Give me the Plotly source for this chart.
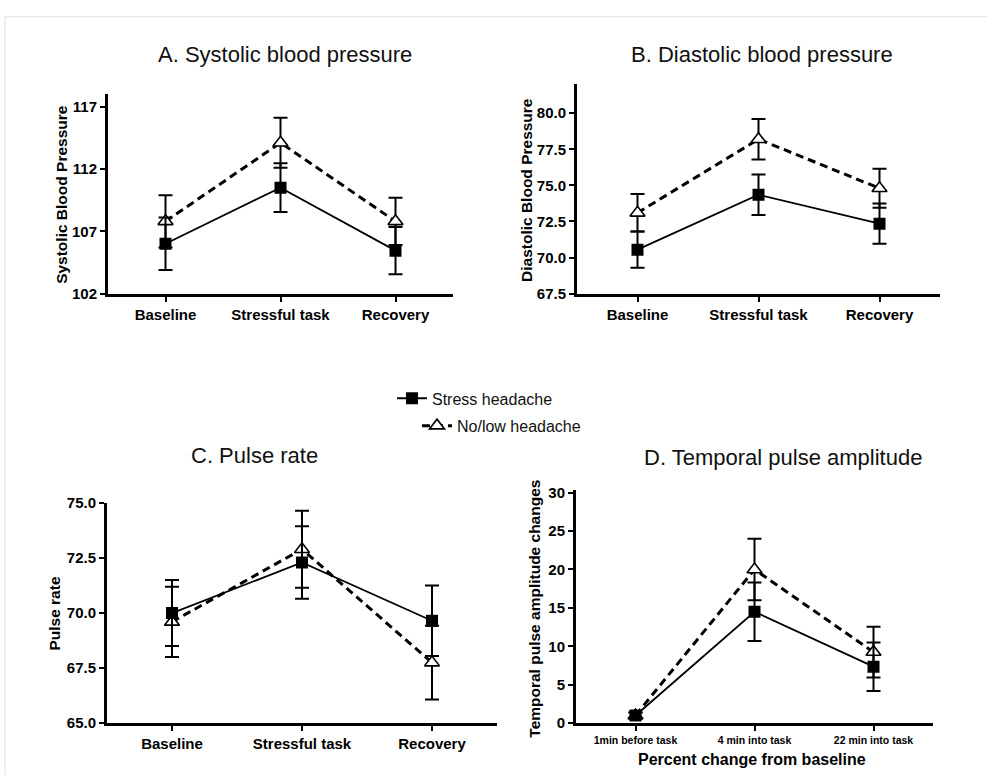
import plotly.graph_objects as go

W, H = 987, 783

# ---------------- data ----------------
categories_bp = ["Baseline", "Stressful task", "Recovery"]
categories_tpa = ["1min before task", "4 min into task", "22 min into task"]

sbp_stress = [106.0, 110.5, 105.45]
sbp_stress_se = [2.1, 1.95, 1.9]
sbp_nolow = [107.8, 114.1, 107.8]
sbp_nolow_se = [2.1, 2.0, 1.9]

dbp_stress = [70.55, 74.35, 72.35]
dbp_stress_se = [1.25, 1.4, 1.4]
dbp_nolow = [73.1, 78.2, 74.8]
dbp_nolow_se = [1.3, 1.4, 1.35]

pulse_stress = [70.0, 72.3, 69.65]
pulse_stress_se = [1.5, 1.65, 1.6]
pulse_nolow = [69.6, 72.9, 67.75]
pulse_nolow_se = [1.6, 1.75, 1.67]

tpa_stress = [1.0, 14.5, 7.35]
tpa_stress_se = [0.4, 3.8, 3.15]
tpa_nolow = [1.0, 20.0, 9.25]
tpa_nolow_se = [0.4, 4.0, 3.3]

series_names = ["Stress headache", "No/low headache"]

panel_titles = ["A. Systolic blood pressure", "B. Diastolic blood pressure",
                "C. Pulse rate", "D. Temporal pulse amplitude"]
y_titles = ["Systolic Blood Pressure", "Diastolic Blood Pressure",
            "Pulse rate", "Temporal pulse amplitude changes"]
x_title_d = "Percent change from baseline"

sbp_ticks = [102, 107, 112, 117]
dbp_ticks = [67.5, 70.0, 72.5, 75.0, 77.5, 80.0]
pulse_ticks = [65.0, 67.5, 70.0, 72.5, 75.0]
tpa_ticks = [0, 5, 10, 15, 20, 25, 30]

FONT = "Arial, Liberation Sans, Helvetica, sans-serif"


def px_x(p):
    return p / W


def px_y(p):
    return 1 - p / H


fig = go.Figure()

panels = [
    (categories_bp, sbp_stress, sbp_stress_se, sbp_nolow, sbp_nolow_se, ""),
    (categories_bp, dbp_stress, dbp_stress_se, dbp_nolow, dbp_nolow_se, "2"),
    (categories_bp, pulse_stress, pulse_stress_se, pulse_nolow, pulse_nolow_se, "3"),
    (categories_tpa, tpa_stress, tpa_stress_se, tpa_nolow, tpa_nolow_se, "4"),
]

for i, (xc, s, sse, n, nse, sfx) in enumerate(panels):
    first = i == 0
    # No/low headache: open triangles, dashed line (drawn first, beneath)
    fig.add_trace(go.Scatter(
        x=xc, y=n, mode="lines+markers", name=series_names[1],
        xaxis="x" + sfx, yaxis="y" + sfx,
        line=dict(color="black", width=3, dash="8px,5px"),
        marker=dict(symbol="triangle-up", size=13, color="white",
                    line=dict(color="black", width=1.6)),
        error_y=dict(type="data", array=nse, visible=True, color="black",
                     thickness=2, width=7),
        showlegend=first, legend="legend2",
    ))
    # Stress headache: filled squares, solid line
    fig.add_trace(go.Scatter(
        x=xc, y=s, mode="lines+markers", name=series_names[0],
        xaxis="x" + sfx, yaxis="y" + sfx,
        line=dict(color="black", width=1.8),
        marker=dict(symbol="square", size=12, color="black",
                    line=dict(color="black", width=0)),
        error_y=dict(type="data", array=sse, visible=True, color="black",
                     thickness=2, width=7),
        showlegend=first, legend="legend",
    ))

common_x = dict(type="category", range=[-0.5, 2.5], showline=True, linewidth=3,
                linecolor="black", ticks="outside", ticklen=5, tickwidth=2,
                tickcolor="black", showgrid=False, zeroline=False,
                tickfont=dict(family=FONT, size=15, color="black", weight="bold"),
                fixedrange=True)
common_y = dict(showline=True, linewidth=3, linecolor="black", ticks="outside",
                ticklen=5, tickwidth=2, tickcolor="black", showgrid=False,
                zeroline=False,
                tickfont=dict(family=FONT, size=15, color="black", weight="bold"),
                fixedrange=True)

# pixel boxes: (left, right, top, bottom)
boxes = [(108, 453, 87, 291), (577, 940, 77, 291), (107, 497, 505, 730), (576, 933, 492, 730)]
yranges = [[102, 118], [67.5, 82], [65, 75], [0, 30.3]]
yticks = [sbp_ticks, dbp_ticks, pulse_ticks, tpa_ticks]
ytickfmt = ["d", ".1f", ".1f", "d"]

layout_axes = {}
for i, ((l, r, t, b), yr, tv, fmt) in enumerate(zip(boxes, yranges, yticks, ytickfmt)):
    sfx = "" if i == 0 else str(i + 1)
    xa = dict(common_x)
    xa["domain"] = [px_x(l), px_x(r)]
    xa["anchor"] = "y" + sfx
    if i == 3:
        xa["tickfont"] = dict(family=FONT, size=10.5, color="black", weight="bold")
    ya = dict(common_y)
    ya["domain"] = [px_y(b), px_y(t)]
    ya["anchor"] = "x" + sfx
    ya["range"] = yr
    ya["tickvals"] = tv
    ya["tickformat"] = fmt
    layout_axes["xaxis" + sfx] = xa
    layout_axes["yaxis" + sfx] = ya

annotations = []
title_pos = [(285, 46.5), (762, 46.5), (254, 456), (783, 458)]
for txt, (x, y) in zip(panel_titles, title_pos):
    annotations.append(dict(text=txt, x=px_x(x), y=px_y(y), xref="paper", yref="paper",
                            xanchor="center", yanchor="middle", showarrow=False,
                            font=dict(family=FONT, size=22, color="#111")))

ytitle_pos = [(62, 190), (527, 185), (55, 618), (535, 613)]
for txt, (x, y) in zip(y_titles, ytitle_pos):
    annotations.append(dict(text=txt, x=px_x(x), y=px_y(y), xref="paper", yref="paper",
                            xanchor="center", yanchor="middle", showarrow=False,
                            textangle=-90,
                            font=dict(family=FONT, size=15.5, color="black", weight="bold")))

annotations.append(dict(text=x_title_d, x=px_x(752), y=px_y(767), xref="paper", yref="paper",
                        xanchor="center", yanchor="middle", showarrow=False,
                        font=dict(family=FONT, size=16, color="black", weight="bold")))

# light frame lines (top & left) as in the reference image
shapes = [
    dict(type="line", xref="paper", yref="paper", x0=px_x(5), x1=1, y0=px_y(8), y1=px_y(8),
         line=dict(color="#dddddd", width=1)),
    dict(type="line", xref="paper", yref="paper", x0=px_x(5), x1=px_x(5), y0=0, y1=px_y(8),
         line=dict(color="#dddddd", width=1)),
]

legend_common = dict(font=dict(family=FONT, size=16, color="#111"), bgcolor="rgba(0,0,0,0)",
                     borderwidth=0, itemwidth=30, xanchor="left", yanchor="middle",
                     tracegroupgap=0)

fig.update_layout(
    width=W, height=H,
    margin=dict(l=0, r=0, t=0, b=0),
    paper_bgcolor="white", plot_bgcolor="white",
    font=dict(family=FONT, color="black"),
    annotations=annotations,
    shapes=shapes,
    legend=dict(legend_common, x=px_x(392), y=px_y(398)),
    legend2=dict(legend_common, x=px_x(417), y=px_y(426)),
    **layout_axes,
)

fig.write_html("out.html")
